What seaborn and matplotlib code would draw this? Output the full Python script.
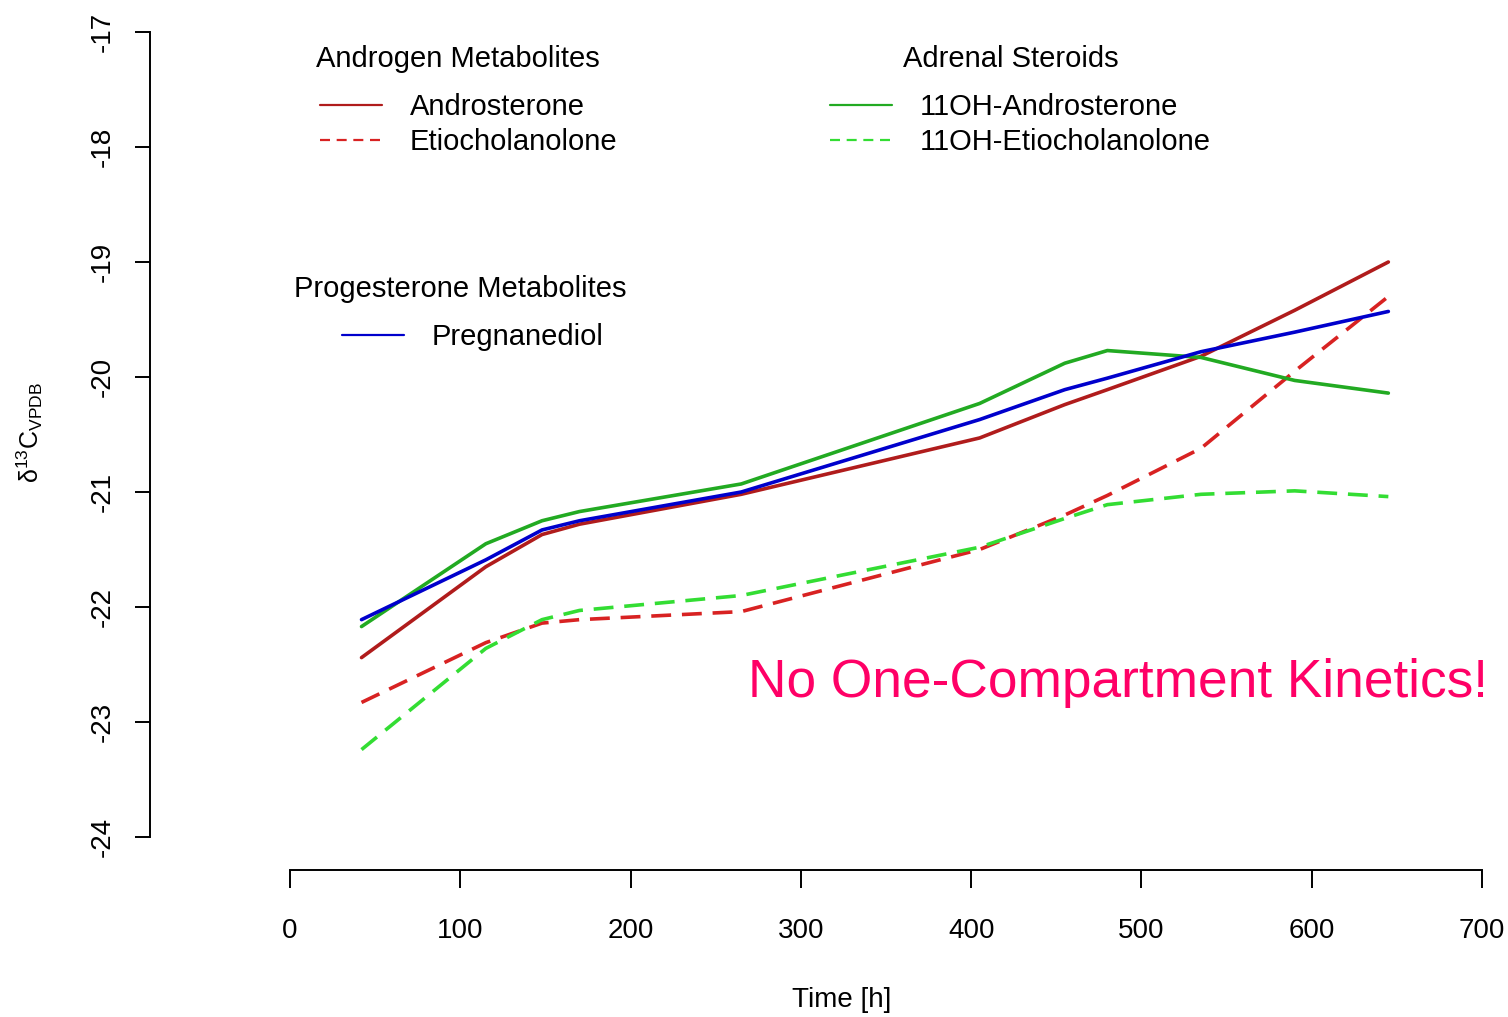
import matplotlib
matplotlib.use('Agg')
import matplotlib.pyplot as plt
import numpy as np
import pandas as pd
import seaborn as sns

# sampling times (h) and delta13C values
time_h = [42, 115, 148, 170, 265, 405, 455, 480, 535, 590, 645]
androsterone = [-22.44, -21.65, -21.37, -21.28, -21.02, -20.53, -20.24, -20.11, -19.82, -19.42, -19.00]
etiocholanolone = [-22.83, -22.31, -22.14, -22.11, -22.04, -21.50, -21.20, -21.03, -20.62, -19.95, -19.30]
oh_androsterone = [-22.17, -21.45, -21.25, -21.17, -20.93, -20.23, -19.88, -19.77, -19.83, -20.03, -20.14]
oh_etiocholanolone = [-23.24, -22.36, -22.11, -22.03, -21.90, -21.48, -21.23, -21.11, -21.02, -20.99, -21.04]
pregnanediol = [-22.11, -21.59, -21.33, -21.25, -21.00, -20.37, -20.11, -20.01, -19.78, -19.61, -19.43]

x_ticks = [0, 100, 200, 300, 400, 500, 600, 700]
y_ticks = [-24, -23, -22, -21, -20, -19, -18, -17]

series = [
    ('Androsterone', androsterone, '#B01C1C', 'solid'),
    ('Etiocholanolone', etiocholanolone, '#D82222', 'dashed'),
    ('11OH-Androsterone', oh_androsterone, '#22AA22', 'solid'),
    ('11OH-Etiocholanolone', oh_etiocholanolone, '#33DD33', 'dashed'),
    ('Pregnanediol', pregnanediol, '#0000CC', 'solid'),
]

sns.set_style('white')
plt.rcParams['font.family'] = ['Liberation Sans', 'DejaVu Sans']
plt.rcParams['axes.unicode_minus'] = False
plt.rcParams['text.color'] = 'black'
plt.rcParams['axes.labelcolor'] = 'black'
plt.rcParams['xtick.color'] = 'black'
plt.rcParams['ytick.color'] = 'black'

W, H = 1508, 1017
fig = plt.figure(figsize=(W / 100, H / 100), dpi=100)
ax = fig.add_axes([290 / W, 1 - 837 / H, (1482 - 290) / W, (837 - 32) / H])

handles = {}
for name, vals, col, ls in series:
    df = pd.DataFrame({'t': time_h, 'd': vals})
    style = '-' if ls == 'solid' else (0, (5.5, 3))
    sns.lineplot(data=df, x='t', y='d', color=col, linewidth=2.6, linestyle=style, ax=ax, legend=False)
    hstyle = '-' if ls == 'solid' else (0, (4.5, 3))
    handles[name] = plt.Line2D([], [], color=col, linewidth=1.6, linestyle=hstyle)

for s in ['top', 'right']:
    ax.spines[s].set_visible(False)
ax.spines['left'].set_position(('outward', 100.8))
ax.spines['bottom'].set_position(('outward', 23.8))
for s in ['left', 'bottom']:
    ax.spines[s].set_linewidth(1.4)
    ax.spines[s].set_color('black')

ax.set_xlim(0, 700)
ax.set_ylim(-24, -17)
ax.set_xticks(x_ticks)
ax.set_yticks(y_ticks)

ax.tick_params(axis='y', length=10.8, width=1.4, pad=14, labelsize=20, direction='out',
               left=True, labelrotation=90)
ax.tick_params(axis='x', length=13, width=1.4, pad=21.5, labelsize=20, direction='out', bottom=True)
for lab in ax.get_yticklabels():
    lab.set_va('center')

ax.set_xlabel('Time [h]', fontsize=20)
ax.xaxis.set_label_coords((842 - 290) / 1192, (837 - 1000) / 805)
ax.xaxis.label.set_va('center')
ax.set_ylabel(r'$\mathregular{\delta^{13}C_{VPDB}}$', fontsize=18)
ax.yaxis.set_label_coords((30 - 290) / 1192, (837 - 432) / 805)
ax.yaxis.label.set_va('center')

ax.text(0.384, 0.191, 'No One-Compartment Kinetics!', transform=ax.transAxes,
        color='#FF0066', fontsize=38.3, ha='left', va='center', clip_on=False)

# group titles
fig.text(458 / W, 1 - 59 / H, 'Androgen Metabolites', fontsize=21, ha='center', va='center')
fig.text(1011 / W, 1 - 59 / H, 'Adrenal Steroids', fontsize=21, ha='center', va='center')
fig.text(460 / W, 1 - 289 / H, 'Progesterone Metabolites', fontsize=21, ha='center', va='center')

groups = [
    (['Androsterone', 'Etiocholanolone'], 320, 93),
    (['11OH-Androsterone', '11OH-Etiocholanolone'], 830, 93),
    (['Pregnanediol'], 342, 323),
]
for names, px, py in groups:
    leg = fig.legend([handles[n] for n in names], names, loc='upper left',
                     bbox_to_anchor=(px / W, 1 - py / H), frameon=False, fontsize=21,
                     borderpad=0, borderaxespad=0, handlelength=2.13, handletextpad=0.96,
                     labelspacing=0.24)

fig.savefig('out.png', dpi=100)
